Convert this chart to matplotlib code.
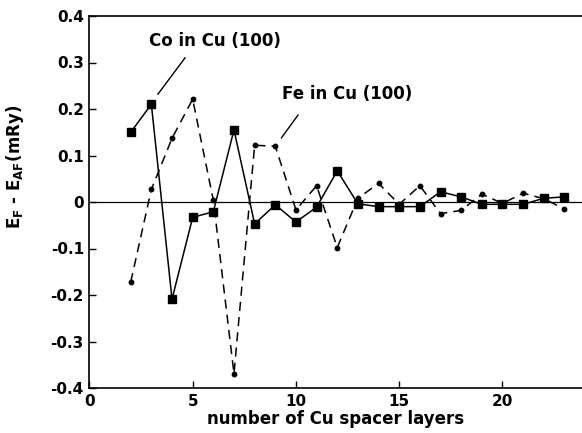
import matplotlib
matplotlib.use("Agg")
import matplotlib.pyplot as plt

plt.rcParams['font.family'] = ['DejaVu Sans']
plt.rcParams['font.weight'] = 'bold'
plt.rcParams['mathtext.fontset'] = 'custom'
plt.rcParams['mathtext.rm'] = 'DejaVu Sans:bold'
plt.rcParams['mathtext.it'] = 'DejaVu Sans:bold'
plt.rcParams['mathtext.bf'] = 'DejaVu Sans:bold'

layers = list(range(2, 24))
co_in_cu = [0.150, 0.210, -0.209, -0.033, -0.021, 0.155, -0.047, -0.006, -0.043, -0.011,
            0.067, -0.004, -0.010, -0.010, -0.010, 0.022, 0.011, -0.005, -0.005, -0.005,
            0.008, 0.011]
fe_in_cu = [-0.172, 0.027, 0.137, 0.221, 0.004, -0.369, 0.122, 0.120, -0.017, 0.035,
            -0.098, 0.008, 0.040, -0.005, 0.035, -0.025, -0.018, 0.017, -0.003, 0.019,
            0.007, -0.015]

xticks = [0, 5, 10, 15, 20]
yticks = [-0.4, -0.3, -0.2, -0.1, 0, 0.1, 0.2, 0.3, 0.4]
ytick_labels = ['-0.4', '-0.3', '-0.2', '-0.1', '0', '0.1', '0.2', '0.3', '0.4']

fig = plt.figure(figsize=(5.82, 4.33), dpi=100)
ax = fig.add_axes([89.4 / 582, 1 - 388 / 433, 1 - 89.4 / 582, (388 - 16) / 433])

ax.axhline(0, color='black', lw=0.9, zorder=1)
ax.plot(layers, co_in_cu, color='black', lw=1.1, marker='s', markersize=5.8,
        zorder=3)
ax.plot(layers, fe_in_cu, color='black', lw=1.1, dashes=(6, 4), marker='o',
        markersize=3.2, zorder=2)

ax.set_xlim(0, 23.85)
ax.set_ylim(-0.4, 0.4)
ax.set_xticks(xticks)
ax.set_xticklabels([str(t) for t in xticks])
ax.set_yticks(yticks)
ax.set_yticklabels(ytick_labels)
ax.tick_params(direction='in', length=5, width=1, labelsize=11, pad=4)
for lab in ax.get_xticklabels() + ax.get_yticklabels():
    lab.set_fontweight('bold')
ax.spines['right'].set_visible(False)
for s in ['left', 'bottom', 'top']:
    ax.spines[s].set_linewidth(1.2)

ax.set_xlabel('number of Cu spacer layers', fontsize=12, fontweight='bold', labelpad=1)
fig.text(15 / 582, 1 - 167 / 433, r'$\mathrm{E_F}$ - $\mathrm{E_{AF}}$(mRy)',
         rotation=90, ha='center', va='center', fontsize=12, fontweight='bold')

ax.text(6.08, 0.346, 'Co in Cu (100)', fontsize=12, fontweight='bold',
        ha='center', va='center')
ax.plot([4.63, 3.32], [0.31, 0.232], color='black', lw=1)
ax.text(9.32, 0.233, 'Fe in Cu (100)', fontsize=12, fontweight='bold',
        ha='left', va='center')
ax.plot([10.1, 9.3], [0.187, 0.138], color='black', lw=1)

fig.savefig('out.png', dpi=100)
